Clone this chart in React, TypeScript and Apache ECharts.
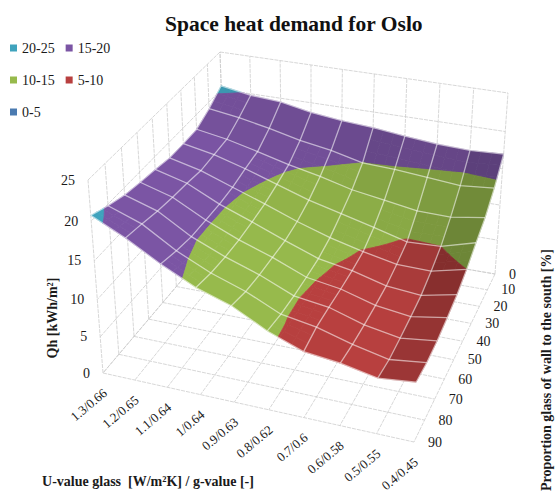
import React, { useEffect, useRef } from "react";
import * as echarts from "echarts";

const title = "Space heat demand for Oslo";
const uLabels = ["1.3/0.66","1.2/0.65","1.1/0.64","1/0.64","0.9/0.63","0.8/0.62","0.7/0.6","0.6/0.58","0.5/0.55","0.4/0.45"];
const vLabels = ["0","10","20","30","40","50","60","70","80","90"];
const zTicks = [0,5,10,15,20,25];
const zMax = 25;
const bandNames = ["20-25","15-20","10-15","5-10","0-5"];
const bandLo = [20,15,10,5,0];
const bandColors = ["#3fa3bd","#7b55a4","#97ba4c","#b8403f","#4a7ab0"];

// Rows: proportion of glass 0..90, columns: U-value 1.3..0.4
const row0 = [20.5,19.8,19.5,18.7,18.2,17.9,17.4,17.0,16.8,17.0];
const row10 = [19.1,18.5,17.7,16.7,16.0,15.0,14.8,14.4,14.0,14.4];
const row20 = [18.1,17.4,16.4,15.3,14.4,13.3,12.6,11.9,11.8,12.5];
const row30 = [18.0,17.2,16.0,14.6,13.2,12.1,11.0,9.8,10.0,11.3];
const row40 = [18.0,17.0,15.5,14.0,12.4,11.0,9.9,9.0,8.9,10.0];
const row50 = [18.4,17.3,15.3,13.7,12.0,10.4,9.6,8.4,8.0,9.0];
const row60 = [18.7,17.5,15.3,13.5,12.0,10.2,9.5,8.2,7.6,8.4];
const row70 = [19.1,17.8,15.3,13.5,12.0,10.1,9.5,8.1,7.3,7.9];
const row80 = [19.8,18.3,15.7,13.7,12.2,10.15,9.4,8.1,7.1,7.7];
const row90 = [20.7,18.7,16.3,14.2,12.8,10.5,8.8,8.3,7.4,7.9];
const Z = [row0,row10,row20,row30,row40,row50,row60,row70,row80,row90];

// View: screen corners of the floor and the top of the plot box (back-left, back-right, front-right, front-left)
const floorQuad = [[226,228],[495,274],[414,442],[103,373]];
const topQuad = [[220,52],[508,93],[421,242],[88,180]];

function homography(q: number[][]) {
  const [[x0,y0],[x1,y1],[x2,y2],[x3,y3]] = q;
  const dx1=x1-x2, dx2=x3-x2, sx=x0-x1+x2-x3, dy1=y1-y2, dy2=y3-y2, sy=y0-y1+y2-y3;
  const den=dx1*dy2-dx2*dy1;
  const g=(sx*dy2-dx2*sy)/den, h=(dx1*sy-sx*dy1)/den;
  const a=x1-x0+g*x1, b=x3-x0+h*x3, d=y1-y0+g*y1, e=y3-y0+h*y3;
  return (u:number,v:number)=>{
    const w=g*u+h*v+1;
    return [(a*u+b*v+x0)/w,(d*u+e*v+y0)/w];
  };
}
const Hf = homography(floorQuad);
const Ht = homography(topQuad);
const N = uLabels.length-1, M = vLabels.length-1;

function project(i:number,j:number,z:number){
  const u=i/N, v=j/M, t=z/zMax;
  const g=t-0.08*t*(1-t);
  const f=Hf(u,v), p=Ht(u,v);
  return [f[0]+(p[0]-f[0])*g, f[1]+(p[1]-f[1])*g];
}

function zAt(i:number,j:number){
  const k=Math.min(Math.floor(i),N-1), l=Math.min(Math.floor(j),M-1);
  const a=i-k,b=j-l;
  return (Z[l][k]*(1-a)+Z[l][k+1]*a)*(1-b)+(Z[l+1][k]*(1-a)+Z[l+1][k+1]*a)*b;
}

function clip(poly:number[][],level:number,keepAbove:boolean){
  const out:number[][]=[];
  for(let n=0;n<poly.length;n++){
    const p=poly[n], q=poly[(n+1)%poly.length];
    const pin=keepAbove?p[2]>=level:p[2]<=level;
    const qin=keepAbove?q[2]>=level:q[2]<=level;
    if(pin) out.push(p);
    if(pin!==qin){
      const t=(level-p[2])/(q[2]-p[2]);
      out.push([p[0]+(q[0]-p[0])*t,p[1]+(q[1]-p[1])*t,level]);
    }
  }
  return out;
}

function shadeColor(hex:string,f:number){
  const n=parseInt(hex.slice(1),16);
  const c=[(n>>16)&255,(n>>8)&255,n&255].map(x=>Math.round(Math.min(255,x*f)));
  return `rgb(${c[0]},${c[1]},${c[2]})`;
}

function cellShade(k:number,l:number){
  const dzu=(Z[l][k+1]-Z[l][k]+Z[l+1][k+1]-Z[l+1][k])/2;
  const dzv=(Z[l+1][k]-Z[l][k]+Z[l+1][k+1]-Z[l][k+1])/2;
  return Math.max(0.72,1-0.13*Math.max(0,dzu+0.6)-0.05*Math.max(0,-dzv));
}

const cellData:number[][]=[];
for(let l=0;l<M;l++) for(let k=0;k<N;k++) cellData.push([k,l]);

const SUB=3;
function bandRender(b:number){
  return (_p:any,api:any)=>{
    const k=api.value(0), l=api.value(1);
    const lo=bandLo[b], hi=lo+5;
    const fill=shadeColor(bandColors[b],cellShade(k,l));
    const cz=[Z[l][k],Z[l][k+1],Z[l+1][k],Z[l+1][k+1]];
    const whole=cz.every(z=>z>=lo&&z<=hi);
    const none=cz.every(z=>z<lo)||cz.every(z=>z>hi);
    if(none) return {type:"group",children:[]};
    const steps=whole?1:SUB;
    const children:any[]=[];
    for(let s=0;s<steps;s++) for(let r=0;r<steps;r++){
      const corners=[[k+s/steps,l+r/steps],[k+(s+1)/steps,l+r/steps],[k+(s+1)/steps,l+(r+1)/steps],[k+s/steps,l+(r+1)/steps]];
      let poly=corners.map(([i,j])=>{const z=zAt(i,j);const P=project(i,j,z);return [P[0],P[1],z];});
      poly=clip(poly,lo,true);
      if(poly.length) poly=clip(poly,hi,false);
      if(poly.length>=3){
        children.push({type:"polygon",shape:{points:poly.map(p=>[p[0],p[1]])},style:{fill,stroke:fill,lineWidth:0.8}});
      }
    }
    return {type:"group",children};
  };
}

// Wall and floor grid segments [u0,v0,z0,u1,v1,z1] in axis units
const wallSegs:number[][]=[];
uLabels.forEach((_,i)=>{wallSegs.push([i,0,0,i,M,0]);wallSegs.push([i,0,0,i,0,zMax]);});
vLabels.forEach((_,j)=>{wallSegs.push([0,j,0,N,j,0]);wallSegs.push([0,j,0,0,j,zMax]);});
zTicks.forEach(z=>{wallSegs.push([0,0,z,N,0,z]);wallSegs.push([0,0,z,0,M,z]);});

// Surface mesh lines
const meshSegs:number[][]=[];
for(let j=0;j<=M;j++) meshSegs.push([0,j]);
for(let i=0;i<=N;i++) meshSegs.push([1,i]);

const textColor="#1a1a1a";
const serif='"Liberation Serif"';

const graphics:any[]=[
  ...uLabels.map((s,i)=>{const f=project(i,M,0);return {type:"text",x:f[0]+2,y:f[1]+18,rotation:40*Math.PI/180,style:{text:s,font:`13px ${serif}`,fill:textColor,textAlign:"right",textVerticalAlign:"middle"}};}),
  ...vLabels.map((s,j)=>{const f=project(N,j,0);return {type:"text",x:f[0]+14,y:f[1],style:{text:s,font:`14px ${serif}`,fill:textColor,textAlign:"left",textVerticalAlign:"middle"}};}),
  ...zTicks.map(z=>{const f=project(0,M,z);return {type:"text",x:f[0]-13,y:f[1],style:{text:String(z),font:`14px ${serif}`,fill:textColor,textAlign:"right",textVerticalAlign:"middle"}};}),
  {type:"text",x:52,y:318,rotation:Math.PI/2,style:{text:"Qh [kWh/m²]",font:`bold 14px ${serif}`,fill:textColor,textAlign:"center",textVerticalAlign:"middle"}},
  {type:"text",x:148,y:481,style:{text:"U-value glass  [W/m²K] / g-value [-]",font:`bold 14px ${serif}`,fill:textColor,textAlign:"center",textVerticalAlign:"middle"}},
  {type:"text",x:546,y:370,rotation:Math.PI/2,style:{text:"Proportion glass of wall to the south [%]",font:`bold 14px ${serif}`,fill:textColor,textAlign:"center",textVerticalAlign:"middle"}},
];

const legendBase={orient:"horizontal",icon:"rect",itemWidth:7,itemHeight:7,itemGap:11,selectedMode:false,left:5,textStyle:{fontFamily:"Liberation Serif",fontSize:14,color:textColor}};

export default function App(){
  const ref=useRef<HTMLDivElement>(null);
  useEffect(()=>{
    const chart=echarts.init(ref.current!,undefined,{renderer:"svg"});
    chart.setOption({
      animation:false,
      backgroundColor:"#fff",
      title:{text:title,left:160,top:8,textStyle:{fontFamily:"Liberation Serif",fontWeight:"bold",fontSize:21.5,color:"#111"}},
      legend:[
        {...legendBase,top:36,data:["20-25","15-20"]},
        {...legendBase,top:68,data:["10-15","5-10"]},
        {...legendBase,top:100,data:["0-5"]},
      ],
      graphic:{elements:graphics},
      series:[
        {type:"custom",name:"walls",coordinateSystem:"none",silent:true,z:1,data:wallSegs,
          renderItem:(_p:any,api:any)=>{
            const a=project(api.value(0),api.value(1),api.value(2));
            const b=project(api.value(3),api.value(4),api.value(5));
            return {type:"line",shape:{x1:a[0],y1:a[1],x2:b[0],y2:b[1]},style:{stroke:"#cdcdcd",lineWidth:0.8,lineDash:[4,1]}};
          }},
        ...bandNames.map((name,b)=>({type:"custom",name,coordinateSystem:"none",silent:true,z:2,
          itemStyle:{color:bandColors[b]},data:cellData,renderItem:bandRender(b)})),
        {type:"custom",name:"mesh",coordinateSystem:"none",silent:true,z:3,data:meshSegs,
          renderItem:(_p:any,api:any)=>{
            const kind=api.value(0), idx=api.value(1);
            const pts:number[][]=[];
            if(kind===0) for(let i=0;i<=N;i++) pts.push(project(i,idx,Z[idx][i]));
            else for(let j=0;j<=M;j++) pts.push(project(idx,j,Z[j][idx]));
            return {type:"polyline",shape:{points:pts},style:{fill:"none",stroke:"rgba(255,255,255,0.55)",lineWidth:1.3}};
          }},
      ],
    });
    return ()=>chart.dispose();
  },[]);
  return <div ref={ref} style={{position:"absolute",left:0,top:0,width:555,height:497}}/>;
}
